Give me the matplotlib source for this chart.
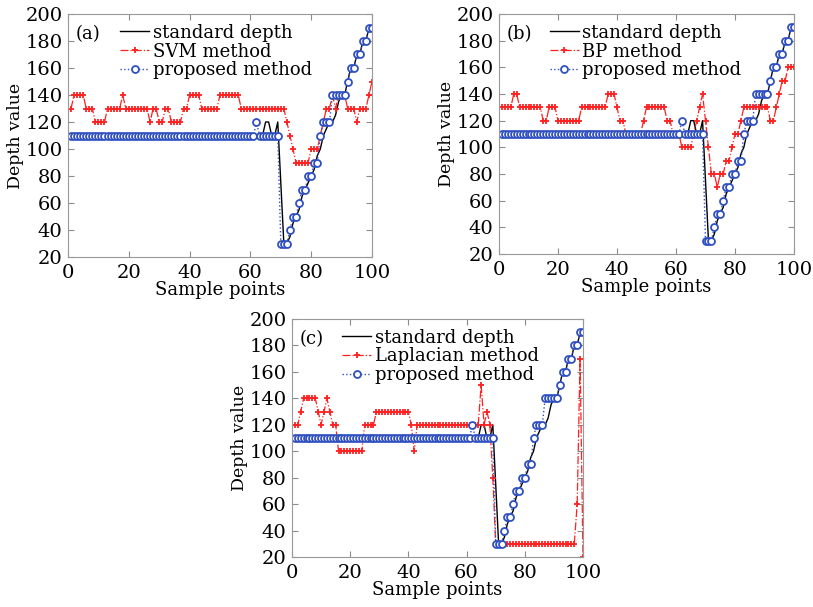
import matplotlib
matplotlib.use("Agg")
import matplotlib.pyplot as plt
import numpy as np
from matplotlib.ticker import MultipleLocator

plt.rcParams['font.family'] = ['DejaVu Serif']
plt.rcParams['mathtext.fontset'] = 'dejavuserif'


def runs(pairs):
    # (value, count) -> flat list
    out = []
    for v, n in pairs:
        out += [v] * n
    return out


# sample index 1..100
x = np.arange(1, 101)

standard_depth = runs([(110, 64), (120, 2), (110, 2), (120, 1), (75, 1), (30, 2),
                       (35, 1), (45, 1), (50, 1), (55, 1), (65, 1), (70, 1), (75, 1),
                       (80, 1), (85, 1), (95, 1), (100, 1), (110, 1), (115, 1), (120, 2),
                       (125, 1), (135, 1), (140, 2), (150, 1), (160, 2), (170, 2),
                       (180, 2), (190, 2)])

proposed = runs([(110, 61), (120, 1), (110, 7), (30, 3), (40, 1), (50, 2), (60, 1),
                 (70, 2), (80, 2), (90, 2), (110, 1), (120, 3), (140, 5), (150, 1),
                 (160, 2), (170, 2), (180, 2), (190, 2)])

svm = runs([(130, 1), (140, 4), (130, 3), (120, 4), (130, 5), (140, 1), (130, 8),
            (120, 1), (130, 2), (120, 2), (130, 2), (120, 4), (130, 2), (140, 4),
            (130, 6), (140, 7), (130, 15), (120, 1), (110, 1), (100, 1), (90, 5),
            (100, 3), (110, 1), (120, 1), (130, 2), (140, 1), (130, 1), (140, 3),
            (130, 3), (120, 1), (130, 3), (140, 1), (150, 1)])

bp = runs([(130, 4), (140, 2), (130, 8), (120, 2), (130, 3), (120, 8), (130, 9),
           (140, 3), (130, 1), (120, 2), (110, 6), (120, 1), (130, 7), (120, 2),
           (110, 3), (100, 4), (110, 1), (120, 1), (130, 1), (140, 1), (120, 1),
           (100, 1), (80, 2), (70, 1), (80, 2), (90, 2), (100, 1), (110, 2),
           (120, 1), (130, 9), (120, 2), (130, 1), (140, 1), (150, 2), (160, 3)])

laplacian = runs([(120, 2), (130, 1), (140, 5), (130, 1), (120, 1), (130, 1), (140, 1),
                  (130, 1), (120, 2), (100, 9), (120, 4), (130, 12), (120, 1), (100, 1),
                  (120, 22), (150, 1), (120, 1), (130, 1), (120, 1), (80, 1), (30, 28),
                  (60, 1), (170, 1), (20, 1)])

panels = [
    ('(a)', 'SVM method', svm, [68 / 813, 1 - 257 / 607, 304 / 813, 243 / 607]),
    ('(b)', 'BP method', bp, [499 / 813, 1 - 254 / 607, 295 / 813, 240 / 607]),
    ('(c)', 'Laplacian method', laplacian, [292 / 813, 1 - 557 / 607, 291 / 813, 238 / 607]),
]

fig = plt.figure(figsize=(8.13, 6.07), dpi=100)

for tag, name, red, rect in panels:
    ax = fig.add_axes(rect)
    ax.plot(x, standard_depth, color='black', lw=1.0, label='standard depth')
    ax.plot(x, red, color='#ff2020', ls='-.', lw=0.9, marker='+', ms=5, mew=1.3,
            label=name)
    ax.plot(x, proposed, color='#3050c0', ls=':', lw=1.0, marker='o', ms=5,
            mew=1.3, mfc='white', label='proposed method')
    ax.set_xlim(0, 100)
    ax.set_ylim(20, 200)
    ax.xaxis.set_major_locator(MultipleLocator(20))
    ax.xaxis.set_minor_locator(MultipleLocator(10))
    ax.yaxis.set_major_locator(MultipleLocator(20))
    ax.yaxis.set_minor_locator(MultipleLocator(10))
    ax.tick_params(which='both', direction='in', top=True, right=True,
                   color='0.55', labelsize=14)
    ax.tick_params(axis='x', pad=5)
    ax.tick_params(axis='y', pad=4)
    ax.tick_params(which='major', length=4)
    ax.tick_params(which='minor', length=0)
    for s in ax.spines.values():
        s.set_color('0.6')
    ax.set_xlabel('Sample points', fontsize=13, labelpad=-1)
    ax.set_ylabel('Depth value', fontsize=12.5, labelpad=1)
    ax.text(0.025, 0.955, tag, transform=ax.transAxes, va='top', ha='left',
            fontsize=13)
    ax.legend(loc='upper left', bbox_to_anchor=(0.16, 0.975), frameon=False,
              fontsize=13, handlelength=1.6, handletextpad=0.2,
              labelspacing=0.05, borderaxespad=0.1, borderpad=0.1)

fig.savefig('out.png', dpi=100)
